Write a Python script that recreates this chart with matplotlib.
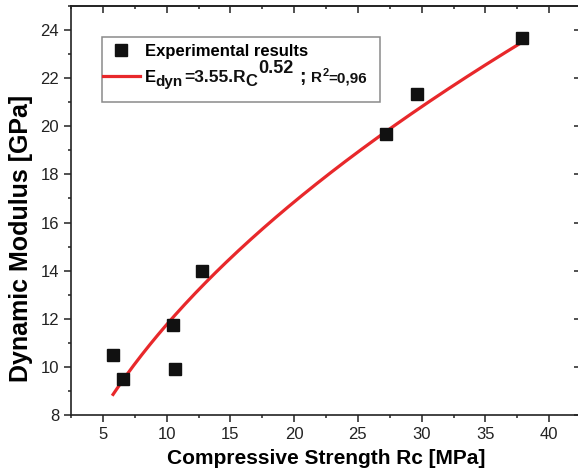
import matplotlib
matplotlib.use("Agg")
import matplotlib.pyplot as plt
from matplotlib.patches import Rectangle
import numpy as np

# experimental points
rc = [5.8, 6.6, 10.5, 10.65, 12.8, 27.2, 29.6, 37.9]
edyn = [10.5, 9.5, 11.75, 9.9, 14.0, 19.7, 21.35, 23.65]

# power-law fit  E = a * Rc^b
fit_a = 3.55
fit_b = 0.52

xticks = [5, 10, 15, 20, 25, 30, 35, 40]
yticks = [8, 10, 12, 14, 16, 18, 20, 22, 24]

plt.rcParams['font.family'] = ['Liberation Sans', 'DejaVu Sans']

fig = plt.figure(figsize=(5.78, 4.74), dpi=100)
ax = fig.add_axes([71 / 578, 59 / 474, 510 / 578, 409 / 474])

xs = np.linspace(min(rc), max(rc), 200)
ax.plot(rc, edyn, 's', color='#111111', markersize=9, label='Experimental results', zorder=3)
ax.plot(xs, fit_a * xs ** fit_b, '-', color='#e8282b', lw=2.3, label='E', zorder=2)

ax.set_xlim(2.5, 42.5)
ax.set_ylim(8, 25)
ax.set_xticks(xticks)
ax.set_yticks(yticks)
ax.set_xticks(np.arange(2.5, 43, 2.5), minor=True)
ax.set_yticks(np.arange(8, 25.5, 1), minor=True)

for sp in ax.spines.values():
    sp.set_linewidth(1.2)
    sp.set_color('#222222')

ax.tick_params(which='both', direction='out', width=1.1, color='#222222',
               labelsize=12, labelcolor='#222222', top=False, right=False)
ax.tick_params(which='major', length=5)
ax.tick_params(which='minor', length=2.5)

# mirrored ticks on top / right, pointing inwards, no labels
secx = ax.secondary_xaxis('top')
secx.set_xticks(xticks)
secx.set_xticks(np.arange(2.5, 43, 2.5), minor=True)
secy = ax.secondary_yaxis('right')
secy.set_yticks(yticks)
secy.set_yticks(np.arange(8, 25.5, 1), minor=True)
for sec in (secx, secy):
    sec.tick_params(which='both', direction='in', width=1.1, color='#222222',
                    labeltop=False, labelright=False)
    sec.tick_params(which='major', length=5)
    sec.tick_params(which='minor', length=2.5)
    for sp in sec.spines.values():
        sp.set_linewidth(1.2)
        sp.set_color('#222222')

ax.set_xlabel('Compressive Strength Rc [MPa]', fontsize=15, fontweight='bold', labelpad=5)
ax.set_ylabel('Dynamic Modulus [GPa]', fontsize=18, fontweight='bold')
ax.yaxis.set_label_coords(-0.074, 0.432)

# legend frame drawn separately so the padding can differ in x and y
ax.add_patch(Rectangle((0.0608, 0.765), 0.545, 0.159, transform=ax.transAxes,
                       facecolor='white', edgecolor='#8a8a8a', lw=1.1, zorder=4))
leg = ax.legend(loc='upper left', bbox_to_anchor=(0.0627, 0.907), borderaxespad=0,
                frameon=False, prop={'weight': 'bold', 'size': 12}, handlelength=2.2,
                handletextpad=0.3, labelspacing=0.66, borderpad=0)
leg.set_zorder(5)

# rest of the fit equation, pieced together after the legend's "E"
pieces = [
    # text, size, vertical shift (pt), x gap (pt)
    ('dyn', 11, -3.2, 0.0),
    ('=3.55.R', 12.5, 0.0, 0.8),
    ('C', 12, -3.2, 0.0),
    ('0.52', 13, 6.0, 0.8),
    (';', 14, -0.5, 3.5),
    ('R', 11, 0.0, 4.0),
    ('2', 8, 5.2, 0.3),
    ('=0,96', 11, 0.0, 0.0),
]
base = leg.get_texts()[1]
prev = base
for txt, size, dy, gap in pieces:
    prev = ax.annotate(txt, xy=(1, 0), xycoords=(prev, base),
                       xytext=(gap, dy), textcoords='offset points',
                       fontsize=size, fontweight='bold', color='#111111',
                       ha='left', va='bottom', zorder=6, annotation_clip=False)

fig.canvas.draw()
fig.savefig('out.png', dpi=100)
